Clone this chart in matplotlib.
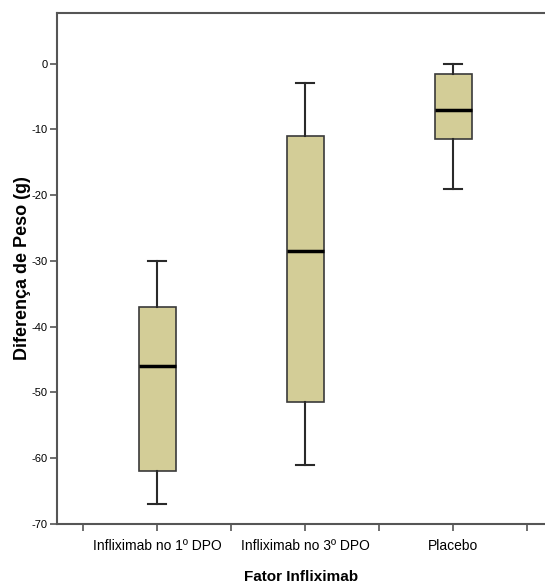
import matplotlib
matplotlib.use("Agg")
import matplotlib.pyplot as plt

# five-number summaries
groups = ["Infliximab no 1º DPO", "Infliximab no 3º DPO", "Placebo"]
whislo = [-67, -61, -19]
q1 = [-62, -51.5, -11.5]
med = [-46, -28.5, -7]
q3 = [-37, -11, -1.5]
whishi = [-30, -3, 0]
yticks = [0, -10, -20, -30, -40, -50, -60, -70]

plt.rcParams['font.family'] = ['Liberation Sans Narrow', 'Liberation Sans', 'DejaVu Sans']

fig = plt.figure(figsize=(5.45, 5.87), dpi=100)
ax = fig.add_axes([57/545, 63/587, 1 - 57/545, (524 - 13)/587])

stats = []
for i in range(len(groups)):
    stats.append({"label": groups[i], "whislo": whislo[i], "q1": q1[i], "med": med[i],
                  "q3": q3[i], "whishi": whishi[i], "fliers": []})

ax.bxp(stats, positions=range(len(groups)), widths=0.25, patch_artist=True,
       showfliers=False,
       boxprops=dict(facecolor="#d3cd97", edgecolor="#3a3a3a", linewidth=1.2),
       medianprops=dict(color="black", linewidth=2.5),
       whiskerprops=dict(color="#2a2a2a", linewidth=1.5),
       capprops=dict(color="#2a2a2a", linewidth=1.5),
       capwidths=0.125)

ax.set_xlim(-0.676, 2.62)
ax.set_ylim(-70, 7.7)
ax.set_yticks(yticks)
ax.set_yticklabels([str(t) for t in yticks], fontsize=8)
ax.set_xticks(range(len(groups)))
ax.set_xticklabels(groups, fontsize=10)
ax.set_xticks([-0.5, 0.5, 1.5, 2.5], minor=True)
ax.tick_params(axis="both", which="both", length=5, width=1.2, color="#555555", pad=2)
ax.tick_params(axis="x", which="major", pad=6)

for s in ["left", "top", "bottom"]:
    ax.spines[s].set_color("#555555")
    ax.spines[s].set_linewidth(1.5)
ax.spines["right"].set_visible(False)

ax.set_ylabel("Diferença de Peso (g)", fontsize=13, fontweight="bold",
              family=["Liberation Sans", "DejaVu Sans"], labelpad=0)
ax.set_xlabel("Fator Infliximab", fontsize=11, fontweight="bold", labelpad=12)

fig.savefig("out.png", dpi=100)
